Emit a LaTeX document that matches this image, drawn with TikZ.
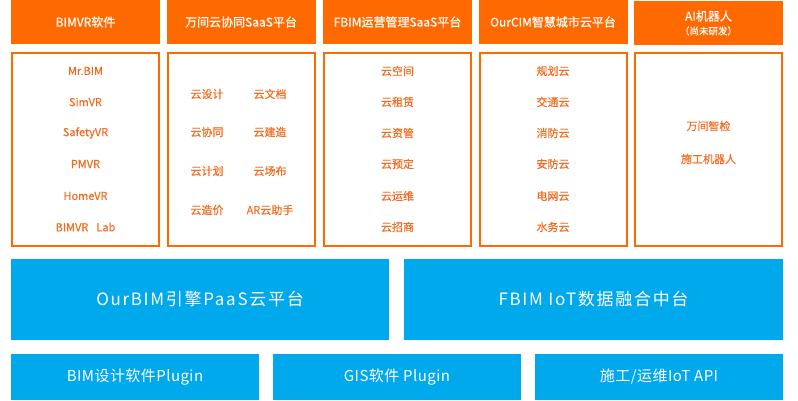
\documentclass[tikz,border=0pt]{standalone}
\usepackage{fontspec}
\setmainfont{Noto Sans CJK SC}
\newfontfamily\midfont[FakeBold=0.5]{Noto Sans CJK SC}
\newfontfamily\widefont[LetterSpace=10]{Noto Sans CJK SC}
\newfontfamily\plugfont[LetterSpace=3]{Noto Sans CJK SC}
\usetikzlibrary{positioning}
\definecolor{hdorange}{HTML}{FF6A00}
\definecolor{txorange}{HTML}{F36C21}
\definecolor{skyblue}{HTML}{00A8EC}
\tikzset{
	head/.style={rectangle, fill=hdorange, text=white, minimum width=149pt, minimum height=44pt, inner sep=0pt, font=\midfont\fontsize{12}{14}\selectfont},
	panel/.style={rectangle, draw=hdorange, line width=2pt, minimum width=147pt, minimum height=193pt, inner sep=0pt},
	item/.style={text=txorange, inner sep=0pt, font=\midfont\fontsize{11}{13}\selectfont},
	plat/.style={rectangle, fill=skyblue, text=white, minimum width=378pt, minimum height=81pt, inner sep=0pt, font=\widefont\fontsize{17}{20}\selectfont},
	plug/.style={rectangle, fill=skyblue, text=white, minimum width=248pt, minimum height=46pt, inner sep=0pt, font=\plugfont\fontsize{15}{17}\selectfont}
}

\begin{document}
\begin{tikzpicture}[x=1pt, y=-1pt]
		\useasboundingbox (0,0) rectangle (798,400);
		% headers
		\node at (85.5,22) [head] (h1) {BIMVR软件};
		\node at (241,22) [head] (h2) {万间云协同SaaS平台};
		\node at (397.5,22) [head] (h3) {FBIM运营管理SaaS平台};
		\node at (553,22) [head] (h4) {OurCIM智慧城市云平台};
		\node at (708.5,23) [head, align=center] (h5) {AI机器人\\[0pt]{\fontsize{9.5}{12}\selectfont （尚未研发）}};
		% panels
		\node at (85.5,149.5) [panel] (p1) {};
		\node at (241,149.5) [panel] (p2) {};
		\node at (397.5,149.5) [panel] (p3) {};
		\node at (553,149.5) [panel] (p4) {};
		\node at (708.5,149.5) [panel] (p5) {};
		% BIMVR
		\node at (85.5,71) [item] (a1) {Mr.BIM};
		\node at (85.5,102) [item] (a2) {SimVR};
		\node at (85.5,133) [item] (a3) {SafetyVR};
		\node at (85.5,164) [item] (a4) {PMVR};
		\node at (85.5,196) [item] (a5) {HomeVR};
		\node at (85.5,227) [item] (a6) {BIMVR\hspace{8pt}Lab};
		% SaaS
		\node at (207,94) [item] (b1) {云设计};
		\node at (270,94) [item] (b2) {云文档};
		\node at (207,132) [item] (b3) {云协同};
		\node at (270,132) [item] (b4) {云建造};
		\node at (207,171) [item] (b5) {云计划};
		\node at (270,171) [item] (b6) {云场布};
		\node at (207,210) [item] (b7) {云造价};
		\node at (270,210) [item] (b8) {AR云助手};
		% FBIM
		\node at (397.5,71) [item] (c1) {云空间};
		\node at (397.5,102) [item] (c2) {云租赁};
		\node at (397.5,133) [item] (c3) {云资管};
		\node at (397.5,164) [item] (c4) {云预定};
		\node at (397.5,196) [item] (c5) {云运维};
		\node at (397.5,227) [item] (c6) {云招商};
		% OurCIM
		\node at (553,71) [item] (d1) {规划云};
		\node at (553,102) [item] (d2) {交通云};
		\node at (553,133) [item] (d3) {消防云};
		\node at (553,164) [item] (d4) {安防云};
		\node at (553,196) [item] (d5) {电网云};
		\node at (553,227) [item] (d6) {水务云};
		% AI
		\node at (708.5,126) [item] (e1) {万间智检};
		\node at (708.5,159) [item] (e2) {施工机器人};
		% platforms
		\node at (200,299.5) [plat] (f1) {OurBIM引擎PaaS云平台};
		\node at (593.5,299.5) [plat, minimum width=379pt] (f2) {FBIM\ IoT数据融合中台};
		\node at (135,377) [plug] (g1) {BIM设计软件Plugin};
		\node at (397,377) [plug] (g2) {GIS软件 Plugin};
		\node at (659,377) [plug] (g3) {施工/运维IoT API};
\end{tikzpicture}
\end{document}
